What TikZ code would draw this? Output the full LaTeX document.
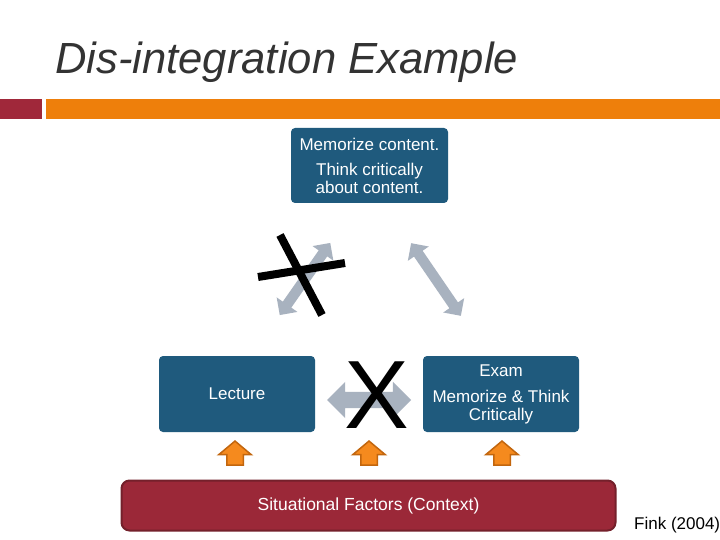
\documentclass[tikz,border=0pt]{standalone}
\usepackage{fontspec}
\setmainfont{Liberation Sans}
\usetikzlibrary{shapes.arrows}
\definecolor{boxblue}{HTML}{1F5A7D}
\definecolor{ctxred}{HTML}{9B2838}
\definecolor{ctxedge}{HTML}{74202B}
\definecolor{barorange}{HTML}{EE7F0B}
\definecolor{barred}{HTML}{A0283A}
\definecolor{linkgray}{HTML}{A8B2BF}
\definecolor{uporange}{HTML}{F58A1E}
\definecolor{upedge}{HTML}{C2660E}
\definecolor{titlegray}{HTML}{333333}
\tikzset{
  stage/.style={fill=boxblue, rounded corners=4pt, minimum width=156pt, minimum height=76pt,
    text=white, align=center, font=\fontsize{17}{18}\selectfont, inner sep=0pt},
  link/.style={double arrow, fill=linkgray, inner sep=5pt, double arrow head extend=7.5pt,
    minimum height=88pt},
  push/.style={single arrow, fill=uporange, draw=upedge, line width=1.5pt, inner sep=7.5pt,
    single arrow head extend=8pt, single arrow tip angle=100, minimum height=24pt, rotate=90},
}
\begin{document}
\begin{tikzpicture}[x=1pt,y=-1pt]
  \useasboundingbox (0,0) rectangle (720,540);
  \fill[white] (0,0) rectangle (720,540);
  \node[anchor=base west, text=titlegray, font=\fontsize{43.6}{44}\selectfont\itshape, inner sep=0pt] (title) at (55,74) {Dis-integration Example};
  \fill[barred] (0,99) rectangle (42,119);
  \fill[barorange] (46,99) rectangle (720,119);
  % boxes
  \node[stage, minimum width=157pt, minimum height=75pt] (content) at (369.5,165.5) {Memorize content.\\[7pt]Think critically\\about content.};
  \node[stage] (lecture) at (237,394) {Lecture};
  \node[stage] (exam) at (501,394) {Exam\\[8pt]Memorize \& Think\\Critically};
  \node[fill=ctxred, draw=ctxedge, line width=2pt, rounded corners=8pt, minimum width=494pt, minimum height=50pt,
    text=white, font=\fontsize{17.5}{18}\selectfont] (context) at (368.5,505.5) {Situational Factors (Context)};
  \node[anchor=base west, font=\fontsize{17}{18}\selectfont, inner sep=0pt] (source) at (634,529) {Fink (2004)};
  % links
  \node[link, rotate=55] (linkL) at (305,279) {};
  \node[link, rotate=-55.6] (linkR) at (436,279.5) {};
  \node[link, minimum height=84pt, inner sep=8pt, double arrow head extend=10pt] (linkH) at (369,400) {};
  % crosses
  \draw[line width=8pt] (280,235) -- (322,315);
  \draw[line width=8pt] (258,277) -- (345,263);
  \node[font=\fontsize{97}{97}\selectfont, inner sep=0pt] (cross) at (376.5,395) {X};
  \foreach \x in {235,369,502}
    \node[push] at (\x,456.5) {};
\end{tikzpicture}
\end{document}
